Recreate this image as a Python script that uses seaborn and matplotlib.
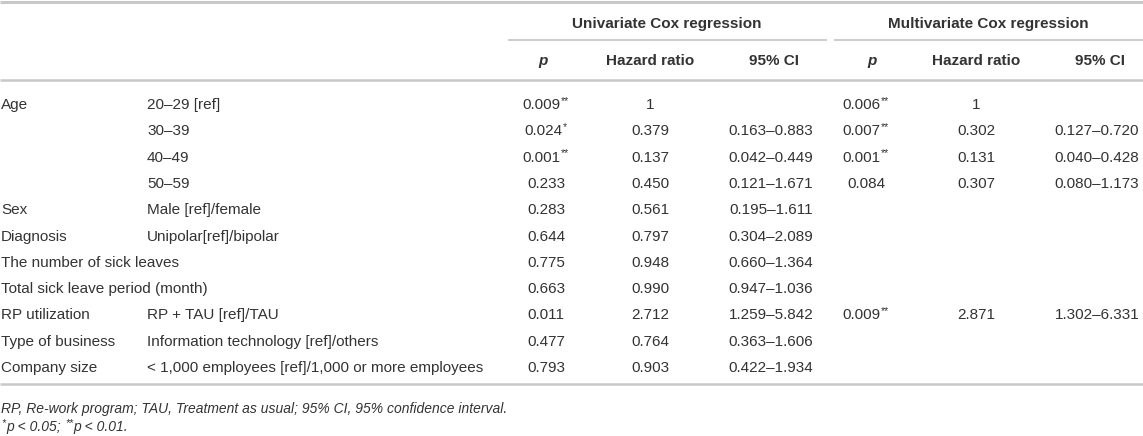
import matplotlib
matplotlib.use("Agg")
import matplotlib.pyplot as plt
import seaborn as sns

# ---- table data ----
variables = ["Age", "", "", "", "Sex", "Diagnosis", "The number of sick leaves",
             "Total sick leave period (month)", "RP utilization", "Type of business",
             "Company size"]
levels = ["20\u201329 [ref]", "30\u201339", "40\u201349", "50\u201359", "Male [ref]/female",
          "Unipolar[ref]/bipolar", "", "", "RP + TAU [ref]/TAU",
          "Information technology [ref]/others",
          "< 1,000 employees [ref]/1,000 or more employees"]

uni_p = ["0.009", "0.024", "0.001", "0.233", "0.283", "0.644", "0.775", "0.663",
         "0.011", "0.477", "0.793"]
uni_stars = ["**", "*", "**", "", "", "", "", "", "", "", ""]
uni_hr = ["1", "0.379", "0.137", "0.450", "0.561", "0.797", "0.948", "0.990",
          "2.712", "0.764", "0.903"]
uni_ci = ["", "0.163\u20130.883", "0.042\u20130.449", "0.121\u20131.671", "0.195\u20131.611",
          "0.304\u20132.089", "0.660\u20131.364", "0.947\u20131.036", "1.259\u20135.842",
          "0.363\u20131.606", "0.422\u20131.934"]

multi_p = ["0.006", "0.007", "0.001", "0.084", "", "", "", "", "0.009", "", ""]
multi_stars = ["**", "**", "**", "", "", "", "", "", "**", "", ""]
multi_hr = ["1", "0.302", "0.131", "0.307", "", "", "", "", "2.871", "", ""]
multi_ci = ["", "0.127\u20130.720", "0.040\u20130.428", "0.080\u20131.173", "", "", "", "",
            "1.302\u20136.331", "", ""]

group_titles = ["Univariate Cox regression", "Multivariate Cox regression"]
sub_headers = ["Hazard ratio", "95% CI"]
footnote = "RP, Re-work program; TAU, Treatment as usual; 95% CI, 95% confidence interval."

# ---- style ----
sns.set_theme(style="white")
plt.rcParams["font.family"] = ["Liberation Sans", "DejaVu Sans"]

TXT = "#333333"
LINE = "#c8c8c8"
FS = 11
SFS = 7.5  # superscript stars
STAR_DY = 1.5  # points, raise of the stars relative to the text top

fig = plt.figure(figsize=(11.43, 4.36), dpi=100)
ax = fig.add_axes([0, 0, 1, 1])
ax.set_xlim(0, 1143)
ax.set_ylim(436, 0)
ax.axis("off")

# column anchors (pixels)
col_var = 1
col_lvl = 147
uni_cols = [546, 650, 771]
multi_cols = [866, 976, 1097]
row0, row_step = 104, 26.3
base = 5  # baseline offset from row centre

# rules
ax.hlines(2.5, 0, 1143, color=LINE, lw=2.2)
ax.hlines(40, 508, 827, color=LINE, lw=1.3)
ax.hlines(40, 834, 1143, color=LINE, lw=1.3)
ax.hlines(80, 0, 1143, color=LINE, lw=1.8)
ax.hlines(384, 0, 1143, color=LINE, lw=1.8)

# header
ax.text(667, 23 + base, group_titles[0], ha="center", va="baseline",
        fontsize=FS, fontweight="bold", color=TXT)
ax.text(988, 23 + base, group_titles[1], ha="center", va="baseline",
        fontsize=FS, fontweight="bold", color=TXT)
for cols, px in [(uni_cols, 543), (multi_cols, 872)]:
    ax.text(px, 60 + base, "p", ha="center", va="baseline", fontsize=FS,
            fontweight="bold", style="italic", color=TXT)
    ax.text(cols[1], 60 + base, sub_headers[0], ha="center", va="baseline",
            fontsize=FS, fontweight="bold", color=TXT)
    ax.text(cols[2] + 3, 60 + base, sub_headers[1], ha="center", va="baseline",
            fontsize=FS, fontweight="bold", color=TXT)


def add_stars(t, stars, side="right", style="normal"):
    # small raised asterisks next to a text artist
    x, ha, dx = (1, "left", 0.3) if side == "right" else (0, "right", -0.3)
    return ax.annotate(stars, xy=(x, 1), xycoords=t, xytext=(dx, STAR_DY),
                       textcoords="offset points", ha=ha, va="top",
                       fontsize=SFS, style=style, color=TXT)


for i in range(len(variables)):
    y = row0 + i * row_step + base
    ax.text(col_var, y, variables[i], ha="left", va="baseline", fontsize=FS, color=TXT)
    ax.text(col_lvl, y, levels[i], ha="left", va="baseline", fontsize=FS, color=TXT)
    for cols, p, s, hr, ci in [(uni_cols, uni_p, uni_stars, uni_hr, uni_ci),
                               (multi_cols, multi_p, multi_stars, multi_hr, multi_ci)]:
        if p[i]:
            t = ax.text(cols[0] - 2.3 * len(s[i]), y, p[i], ha="center",
                        va="baseline", fontsize=FS, color=TXT)
            if s[i]:
                add_stars(t, s[i])
        ax.text(cols[1], y, hr[i], ha="center", va="baseline", fontsize=FS, color=TXT)
        ax.text(cols[2], y, ci[i], ha="center", va="baseline", fontsize=FS, color=TXT)

# footnotes
ax.text(1, 408 + base, footnote, ha="left", va="baseline", fontsize=10,
        style="italic", color=TXT)
f1 = ax.text(6, 426 + base, "p < 0.05; ", ha="left", va="baseline", fontsize=10,
             style="italic", color=TXT)
add_stars(f1, "*", side="left", style="italic")
s2 = add_stars(f1, "**", style="italic")
ax.annotate("p < 0.01.", xy=(1, 0), xycoords=(s2, f1), xytext=(0.3, 0),
            textcoords="offset points", ha="left", va="bottom",
            fontsize=10, style="italic", color=TXT)

fig.savefig("out.png", dpi=100)
